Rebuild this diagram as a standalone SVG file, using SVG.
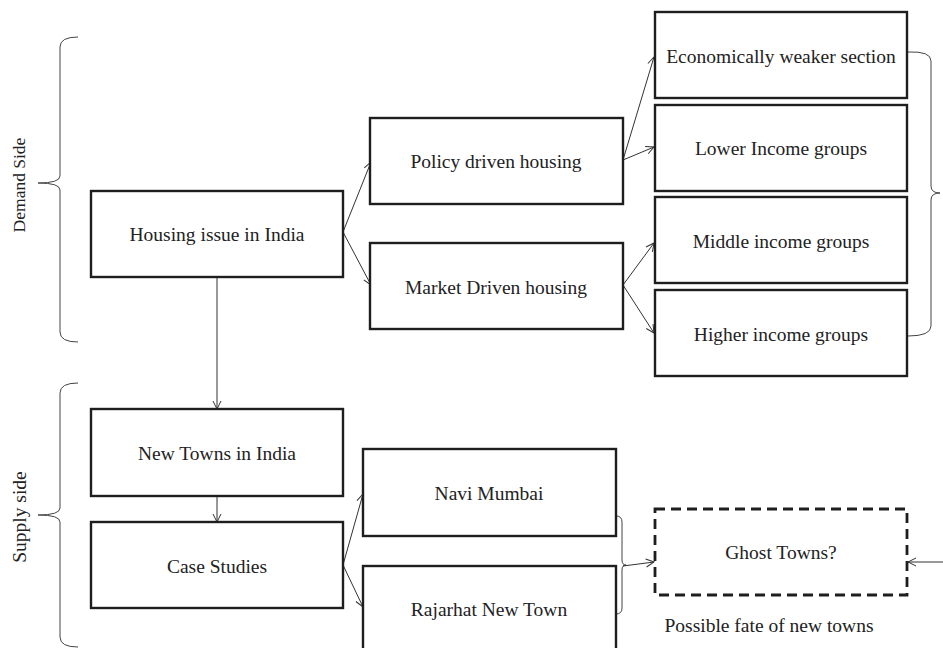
<svg xmlns="http://www.w3.org/2000/svg" width="943" height="648" viewBox="0 0 943 648">
<style>
.box{fill:#fff;stroke:#1e1e1e;stroke-width:2.4}
.dash{fill:#fff;stroke:#1e1e1e;stroke-width:2.8;stroke-dasharray:10 6}
.t{font-family:"Liberation Serif","Times New Roman",serif;font-size:19.5px;fill:#222;text-anchor:middle}
.c{fill:none;stroke:#333;stroke-width:1}
.br{fill:none;stroke:#444;stroke-width:1}
</style>
<defs>
<marker id="ah" markerWidth="10" markerHeight="10" refX="9" refY="5" orient="auto" markerUnits="userSpaceOnUse">
<path d="M1,1 L9,5 L1,9" fill="none" stroke="#333" stroke-width="1"/>
</marker>
</defs>
<rect width="943" height="648" fill="#fff"/>
<g id="braces">
<path class="br" d="M78,37 Q60,37 60,47 L60,176 Q60,183 38,183 Q60,183 60,190 L60,332 Q60,342 78,342"/>
<path class="br" d="M78,383 Q60,383 60,393 L60,508 Q60,515 38,515 Q60,515 60,522 L60,637 Q60,647 78,647"/>
<path class="br" d="M908,52 Q931,51 931,61 L931,186 Q931,193 940,193 Q931,193 931,200 L931,326 Q931,336 908,336"/>
<path class="br" d="M616,516 Q622,516 622,522 L622,560 Q622,565 626,565 Q622,565 622,570 L622,608 Q622,614 616,614"/>
</g>
<g id="labels">
<text class="t" style="font-size:17.5px" transform="translate(25,185) rotate(-90)">Demand Side</text>
<text class="t" transform="translate(26,517) rotate(-90)">Supply side</text>
<text class="t" x="769" y="632">Possible fate of new towns</text>
</g>
<g id="connectors">
<line class="c" x1="217" y1="277" x2="217" y2="409" marker-end="url(#ah)"/>
<line class="c" x1="217" y1="496" x2="217" y2="522" marker-end="url(#ah)"/>
<line class="c" x1="343" y1="232" x2="371" y2="162" marker-end="url(#ah)"/>
<line class="c" x1="343" y1="232" x2="371" y2="285" marker-end="url(#ah)"/>
<line class="c" x1="623" y1="160" x2="654" y2="57" marker-end="url(#ah)"/>
<line class="c" x1="623" y1="160" x2="654" y2="147" marker-end="url(#ah)"/>
<line class="c" x1="623" y1="285" x2="654" y2="243" marker-end="url(#ah)"/>
<line class="c" x1="623" y1="285" x2="654" y2="333" marker-end="url(#ah)"/>
<line class="c" x1="343" y1="565" x2="363" y2="494" marker-end="url(#ah)"/>
<line class="c" x1="343" y1="565" x2="363" y2="607" marker-end="url(#ah)"/>
<line class="c" x1="623" y1="566" x2="654" y2="562" marker-end="url(#ah)"/>
<line class="c" x1="943" y1="562" x2="908" y2="562" marker-end="url(#ah)"/>
</g>
<g id="housing"><rect class="box" x="91" y="191" width="252" height="86"/><text class="t" x="217" y="241">Housing issue in India</text></g>
<g id="policy"><rect class="box" x="370" y="118" width="253" height="86"/><text class="t" x="496" y="168">Policy driven housing</text></g>
<g id="market"><rect class="box" x="370" y="243" width="253" height="86"/><text class="t" x="496" y="294">Market Driven housing</text></g>
<g id="ews"><rect class="box" x="655" y="12" width="252" height="86"/><text class="t" x="781" y="63">Economically weaker section</text></g>
<g id="lig"><rect class="box" x="655" y="105" width="252" height="86"/><text class="t" x="781" y="155">Lower Income groups</text></g>
<g id="mig"><rect class="box" x="655" y="197" width="252" height="86"/><text class="t" x="781" y="248">Middle income groups</text></g>
<g id="hig"><rect class="box" x="655" y="290" width="252" height="86"/><text class="t" x="781" y="341">Higher income groups</text></g>
<g id="newtowns"><rect class="box" x="91" y="409" width="252" height="87"/><text class="t" x="217" y="460">New Towns in India</text></g>
<g id="casestudies"><rect class="box" x="91" y="522" width="252" height="86"/><text class="t" x="217" y="573">Case Studies</text></g>
<g id="navi"><rect class="box" x="363" y="449" width="253" height="87"/><text class="t" x="489" y="500">Navi Mumbai</text></g>
<g id="rajarhat"><rect class="box" x="363" y="566" width="253" height="87"/><text class="t" x="489" y="616">Rajarhat New Town</text></g>
<g id="ghost"><rect class="dash" x="655" y="509" width="252" height="86"/><text class="t" x="781" y="559">Ghost Towns?</text></g>
</svg>
